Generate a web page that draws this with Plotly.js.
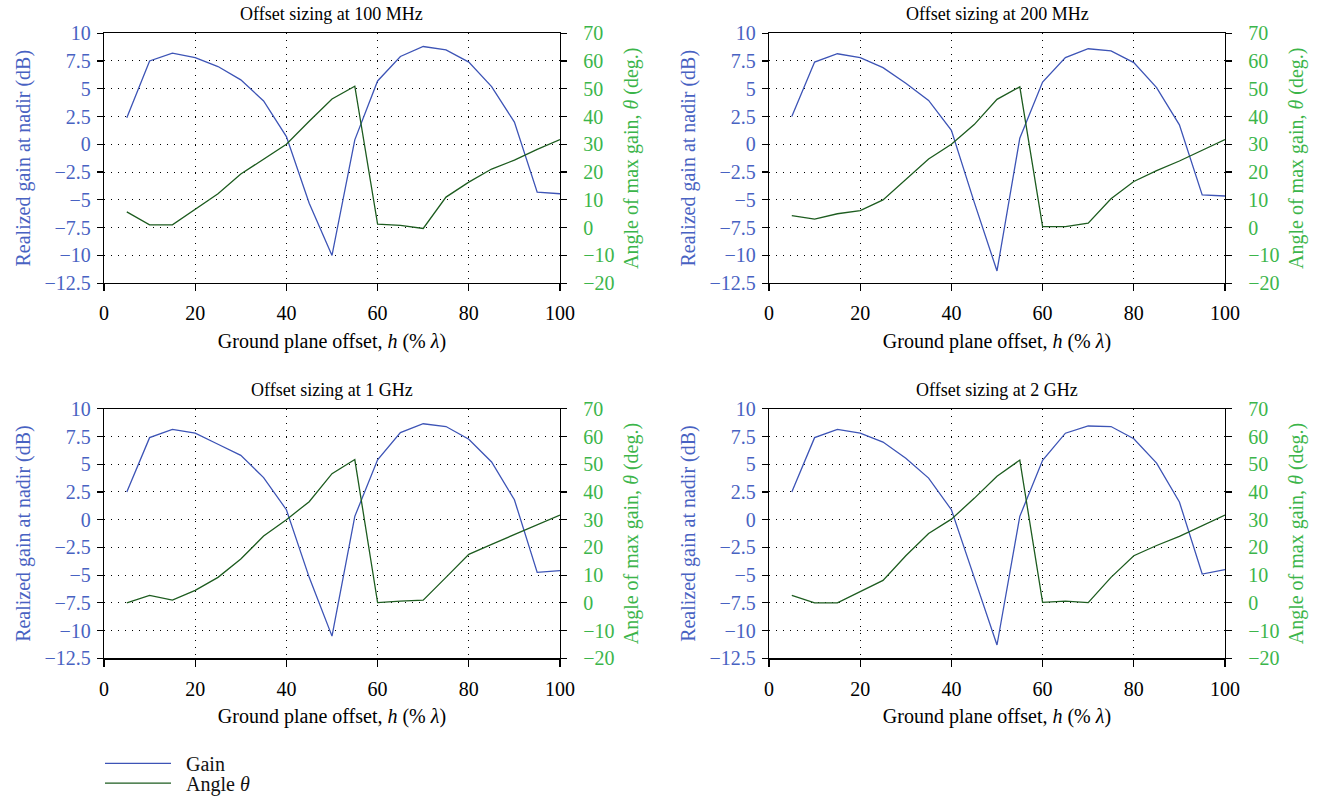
<!DOCTYPE html>
<html>
<head>
<meta charset="utf-8">
<script src="https://cdn.plot.ly/plotly-3.0.1.min.js"></script>
<style>html,body{margin:0;padding:0;background:#fff;}#chart{width:1319px;height:803px;}</style>
</head>
<body>
<div id="chart"></div>
<script>
// ---- data ----
const offsets = [5, 10, 15, 20, 25, 30, 35, 40, 45, 50, 55, 60, 65, 70, 75, 80, 85, 90, 95, 100];

const gain100MHz  = [2.4, 7.5, 8.2, 7.8, 7.0, 5.8, 3.9, 0.7, -5.3, -10.0, 0.4, 5.7, 7.9, 8.8, 8.5, 7.4, 5.2, 2.0, -4.3, -4.45];
const angle100MHz = [5.7, 1.0, 1.0, 6.5, 12.2, 19.3, 24.6, 30.0, 38.3, 46.3, 50.9, 1.3, 0.8, -0.3, 11.0, 16.4, 21.1, 24.3, 28.2, 31.7];

const gain200MHz  = [2.5, 7.4, 8.15, 7.8, 6.9, 5.5, 3.95, 1.25, -5.2, -11.4, 0.55, 5.6, 7.8, 8.6, 8.4, 7.35, 5.1, 1.75, -4.55, -4.65];
const angle200MHz = [4.3, 3.1, 5.0, 6.1, 10.0, 17.2, 24.7, 30.0, 37.1, 46.2, 50.7, 0.4, 0.4, 1.6, 10.4, 16.6, 20.5, 24.0, 27.8, 31.7];

const gain1GHz  = [2.5, 7.4, 8.15, 7.8, 6.8, 5.8, 3.8, 0.9, -5.2, -10.5, 0.3, 5.4, 7.85, 8.65, 8.4, 7.25, 5.2, 1.8, -4.75, -4.6];
const angle1GHz = [0.0, 2.7, 1.0, 4.5, 9.2, 15.8, 24.1, 30.0, 36.5, 46.6, 51.7, 0.1, 0.6, 1.0, 9.2, 17.5, 21.1, 24.6, 28.2, 31.7];

const gain2GHz  = [2.5, 7.4, 8.15, 7.8, 7.0, 5.55, 3.75, 0.9, -5.2, -11.3, 0.3, 5.35, 7.8, 8.45, 8.4, 7.3, 5.1, 1.6, -4.9, -4.5];
const angle2GHz = [2.7, 0.0, 0.0, 3.9, 8.1, 17.0, 25.0, 30.2, 37.7, 45.7, 51.5, 0.2, 0.6, 0.1, 9.2, 17.0, 20.7, 24.0, 27.8, 31.7];

const panelTitles = ["Offset sizing at 100 MHz", "Offset sizing at 200 MHz", "Offset sizing at 1 GHz", "Offset sizing at 2 GHz"];
const seriesNames = ["Gain", "Angle <i>θ</i>"];

const xTickVals = [0, 20, 40, 60, 80, 100];
const xTickText = ["0", "20", "40", "60", "80", "100"];
const gainTickVals = [10, 7.5, 5, 2.5, 0, -2.5, -5, -7.5, -10, -12.5];
const gainTickText = ["10", "7.5", "5", "2.5", "0", "\u22122.5", "\u22125", "\u22127.5", "\u221210", "\u221212.5"];
const angleTickVals = [70, 60, 50, 40, 30, 20, 10, 0, -10, -20];
const angleTickText = ["70", "60", "50", "40", "30", "20", "10", "0", "\u221210", "\u221220"];

const xTitle = "Ground plane offset, <i>h</i> (% <i>λ</i>)";
const gainTitle = "Realized gain at nadir (dB)";
const angleTitle = "Angle of max gain, <i>θ</i> (deg.)";

// ---- styling ----
const FONT = '"Liberation Serif", "Times New Roman", serif';
const FS = 20;
const GAIN_COLOR = '#3d54b6';
const ANGLE_COLOR = '#1d5c1f';
const GAIN_TICK = '#4862c2';
const ANGLE_TICK = '#3bb54a';

const W = 1319, H = 803;
const colDomains = [[104 / W, 560 / W], [769 / W, 1225 / W]];
const rowDomains = [[1 - 287.5 / H, 1 - 33.7 / H], [1 - 668.3 / H, 1 - 415 / H]];

const gains = [gain100MHz, gain200MHz, gain1GHz, gain2GHz];
const angles = [angle100MHz, angle200MHz, angle1GHz, angle2GHz];

const legendBase = {
  x: 100 / W, xanchor: 'left', yanchor: 'middle',
  font: {family: FONT, size: FS, color: '#111'},
  bgcolor: 'rgba(0,0,0,0)', borderwidth: 0,
  itemwidth: 66
};

const traces = [];
const layout = {
  width: W, height: H,
  margin: {l: 0, r: 0, t: 0, b: 0},
  paper_bgcolor: '#fff', plot_bgcolor: 'rgba(0,0,0,0)',
  font: {family: FONT, size: FS, color: '#000'},
  showlegend: true,
  legend: Object.assign({}, legendBase, {y: 1 - 775 / H}),
  legend2: Object.assign({}, legendBase, {y: 1 - 795 / H}),
  annotations: []
};

const dashDots = '1px,6px';
const legendPad = '\u00a0\u00a0';

for (let i = 0; i < 4; i++) {
  const col = i % 2, row = Math.floor(i / 2);
  const xn = i + 1;
  const yl = 2 * i + 1, yr = 2 * i + 2;
  const xKey = xn === 1 ? 'xaxis' : 'xaxis' + xn;
  const ylKey = yl === 1 ? 'yaxis' : 'yaxis' + yl;
  const yrKey = 'yaxis' + yr;
  const xRef = xn === 1 ? 'x' : 'x' + xn;
  const ylRef = yl === 1 ? 'y' : 'y' + yl;
  const yrRef = 'y' + yr;

  layout[xKey] = {
    domain: colDomains[col], anchor: ylRef,
    range: [0, 100], tickvals: xTickVals, ticktext: xTickText,
    showline: true, linecolor: '#000', linewidth: 1.2, mirror: true,
    ticks: 'outside', ticklen: 7, tickcolor: '#000', tickwidth: 1.2,
    ticklabelstandoff: 5,
    showgrid: true, gridcolor: '#000', gridwidth: 1, griddash: dashDots,
    zeroline: false,
    tickfont: {family: FONT, size: FS, color: '#000'},
    title: {text: xTitle, font: {family: FONT, size: FS, color: '#000'}, standoff: 10}
  };
  layout[ylKey] = {
    domain: rowDomains[row], anchor: xRef,
    range: [-12.5, 10], tickvals: gainTickVals, ticktext: gainTickText,
    showline: true, linecolor: '#000', linewidth: 1.2,
    ticks: 'outside', ticklen: 6, tickcolor: '#000', tickwidth: 1.2,
    ticklabelstandoff: 2,
    showgrid: true, gridcolor: '#000', gridwidth: 1, griddash: dashDots,
    zeroline: false,
    tickfont: {family: FONT, size: FS, color: GAIN_TICK},
    title: {text: gainTitle, font: {family: FONT, size: FS, color: GAIN_TICK}, standoff: 8}
  };
  layout[yrKey] = {
    overlaying: ylRef, anchor: xRef, side: 'right',
    range: [-20, 70], tickvals: angleTickVals, ticktext: angleTickText,
    showline: true, linecolor: '#000', linewidth: 1.2,
    ticks: 'outside', ticklen: 6, tickcolor: '#000', tickwidth: 1.2,
    ticklabelstandoff: 12,
    showgrid: false, zeroline: false,
    tickfont: {family: FONT, size: FS, color: ANGLE_TICK},
    title: {text: angleTitle, font: {family: FONT, size: FS, color: ANGLE_TICK}, standoff: 10}
  };

  traces.push({
    type: 'scatter', mode: 'lines', x: offsets, y: gains[i],
    xaxis: xRef, yaxis: ylRef, name: legendPad + seriesNames[0], legend: 'legend',
    showlegend: i === 0, line: {color: GAIN_COLOR, width: 1.3}
  });
  traces.push({
    type: 'scatter', mode: 'lines', x: offsets, y: angles[i],
    xaxis: xRef, yaxis: yrRef, name: legendPad + seriesNames[1], legend: 'legend2',
    showlegend: i === 0, line: {color: ANGLE_COLOR, width: 1.3}
  });

  layout.annotations.push({
    text: panelTitles[i], xref: 'paper', yref: 'paper',
    x: (colDomains[col][0] + colDomains[col][1]) / 2, y: rowDomains[row][1],
    xanchor: 'center', yanchor: 'bottom', yshift: 7, showarrow: false,
    font: {family: FONT, size: 18, color: '#000'}
  });
}

Plotly.newPlot('chart', traces, layout, {displayModeBar: false, staticPlot: true});
</script>
</body>
</html>
